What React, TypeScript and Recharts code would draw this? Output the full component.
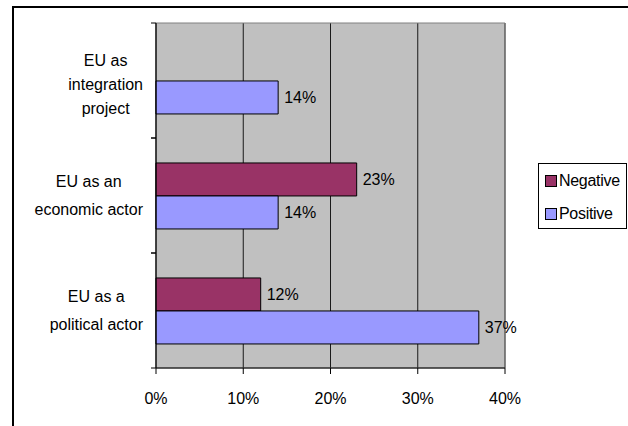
import React from 'react';
import { BarChart, Bar, XAxis, YAxis, CartesianGrid, LabelList, Legend, ReferenceArea } from 'recharts';

const categories = ['EU as\nintegration\nproject', 'EU as an\neconomic actor', 'EU as a\npolitical actor'];
const negativeValues: (number | null)[] = [null, 0.23, 0.12];
const positiveValues: number[] = [0.14, 0.14, 0.37];
const xTicks = [0, 0.1, 0.2, 0.3, 0.4];
const seriesNames = ['Negative', 'Positive'];
const seriesColors = ['#993366', '#9999FF'];

const data = categories.map((name, i) => ({
  name,
  negative: negativeValues[i],
  positive: positiveValues[i],
}));

const FONT = "'Liberation Sans', Arial, sans-serif";
const pct = (v: any) => (v == null || v === '' ? '' : `${Math.round(Number(v) * 100)}%`);

let ctx: CanvasRenderingContext2D | null = null;
function measure(s: string): number {
  if (!ctx) ctx = document.createElement('canvas').getContext('2d');
  if (!ctx) return s.length * 8;
  ctx.font = `16px ${FONT}`;
  return ctx.measureText(s).width;
}

const TICK_MARGIN = 13;

const CategoryTick = (props: any) => {
  const { x, y, payload } = props;
  const lines = String(payload.value).split('\n');
  const maxW = Math.max(...lines.map(measure));
  const cx = x - maxW / 2;
  const lh = lines.length > 2 ? 24 : 27.5;
  const shift = lines.length > 2 ? 4 : 0;
  const axisX = x + TICK_MARGIN;
  const half = payload.offset ?? 0;
  return (
    <g>
      <line x1={axisX - 5} x2={axisX} y1={y - half} y2={y - half} stroke="#000" />
      <line x1={axisX - 5} x2={axisX} y1={y + half} y2={y + half} stroke="#000" />
      <text textAnchor="middle" fontSize={16} fontFamily={FONT} fill="#000">
        {lines.map((l, i) => (
          <tspan key={i} x={cx} y={y + (i - (lines.length - 1) / 2) * lh + 5.5 + shift}>
            {l}
          </tspan>
        ))}
      </text>
    </g>
  );
};

const LegendBox = (props: any) => {
  const payload = props.payload || [];
  return (
    <div
      style={{
        width: 87,
        height: 64,
        border: '1px solid #000',
        background: '#fff',
        fontFamily: FONT,
        fontSize: 16,
        position: 'relative',
        color: '#000',
      }}
    >
      {payload.map((p: any, i: number) => (
        <div
          key={i}
          style={{
            position: 'absolute',
            left: 6,
            top: 8 + i * 33,
            height: 18,
            display: 'flex',
            alignItems: 'center',
            whiteSpace: 'nowrap',
            letterSpacing: -0.3,
          }}
        >
          <span
            style={{
              display: 'inline-block',
              width: 10,
              height: 10,
              border: '1px solid #000',
              background: p.color,
              marginRight: 2,
            }}
          />
          {p.value}
        </div>
      ))}
    </div>
  );
};

export default function App() {
  return (
    <div style={{ position: 'absolute', left: 0, top: 0, width: 628, height: 426, overflow: 'hidden', background: '#fff' }}>
      <div style={{ position: 'absolute', left: 12, top: 6, width: 700, height: 600, border: '2px solid #000' }} />
      <div style={{ position: 'absolute', left: 0, top: 0 }}>
        <BarChart
          width={628}
          height={426}
          data={data}
          layout="vertical"
          margin={{ top: 23, right: 123, bottom: 28, left: 0 }}
          barCategoryGap="21.7%"
          barGap={0}
        >
          <CartesianGrid horizontal={false} vertical={true} stroke="#1a1a1a" fill="#C0C0C0" />
          <ReferenceArea x1={0} x2={0.4} fill="none" stroke="#808080" ifOverflow="visible" />
          <XAxis
            type="number"
            domain={[0, 0.4]}
            ticks={xTicks}
            tickFormatter={pct}
            tickSize={6}
            tickMargin={19}
            height={30}
            axisLine={{ stroke: '#000' }}
            tickLine={{ stroke: '#000' }}
            tick={{ fill: '#000', fontSize: 16, fontFamily: FONT }}
            interval={0}
          />
          <YAxis
            type="category"
            dataKey="name"
            width={156}
            tickLine={false}
            tickSize={0}
            tickMargin={TICK_MARGIN}
            axisLine={{ stroke: '#000' }}
            tick={<CategoryTick />}
            interval={0}
          />
          <Legend
            layout="vertical"
            align="center"
            verticalAlign="middle"
            content={<LegendBox />}
            wrapperStyle={{ left: 538, top: 163, width: 'auto' }}
          />
          <Bar dataKey="negative" name={seriesNames[0]} fill={seriesColors[0]} stroke="#000" strokeWidth={1} isAnimationActive={false}>
            <LabelList dataKey="negative" position="right" offset={6} formatter={pct} fill="#000" fontSize={16} fontFamily={FONT} />
          </Bar>
          <Bar dataKey="positive" name={seriesNames[1]} fill={seriesColors[1]} stroke="#000" strokeWidth={1} isAnimationActive={false}>
            <LabelList dataKey="positive" position="right" offset={6} formatter={pct} fill="#000" fontSize={16} fontFamily={FONT} />
          </Bar>
        </BarChart>
      </div>
    </div>
  );
}
